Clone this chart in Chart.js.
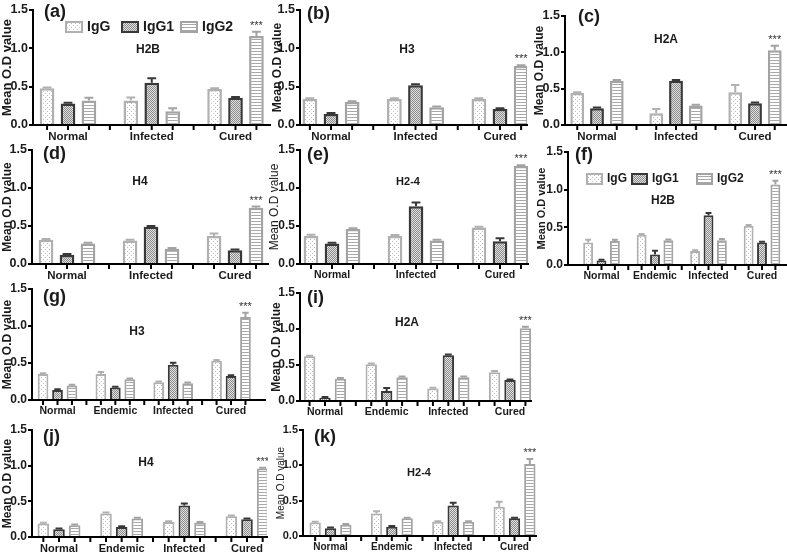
<!DOCTYPE html>
<html>
<head>
<meta charset="utf-8">
<script src="https://cdn.jsdelivr.net/npm/chart.js@4.4.0/dist/chart.umd.min.js"></script>
<style>
body { margin: 0; background: #fff; }
#fig { position: relative; width: 787px; height: 555px; overflow: hidden; }
#fig canvas { position: absolute; }
</style>
</head>
<body>
<div id="fig"></div>
<script>
const groups3 = ['Normal', 'Infected', 'Cured'];
const groups4 = ['Normal', 'Endemic', 'Infected', 'Cured'];
const series = ['IgG', 'IgG1', 'IgG2'];
const yTicks = [0, 0.5, 1.0, 1.5];

// rows: IgG, IgG1, IgG2 ; columns follow the groups
const aMean = [[0.48, 0.32, 0.47], [0.28, 0.55, 0.355], [0.32, 0.18, 1.16]];
const aErr  = [[0.01, 0.04, 0.01], [0.01, 0.06, 0.01], [0.035, 0.04, 0.055]];
const bMean = [[0.34, 0.34, 0.34], [0.145, 0.52, 0.21], [0.30, 0.23, 0.77]];
const bErr  = [[0.01, 0.01, 0.01], [0.01, 0.01, 0.01], [0.01, 0.01, 0.01]];
const cMean = [[0.44, 0.16, 0.45], [0.23, 0.61, 0.30], [0.61, 0.27, 1.03]];
const cErr  = [[0.01, 0.06, 0.10], [0.01, 0.01, 0.01], [0.01, 0.01, 0.06]];
const dMean = [[0.32, 0.31, 0.37], [0.12, 0.49, 0.18], [0.27, 0.20, 0.74]];
const dErr  = [[0.01, 0.01, 0.03], [0.01, 0.01, 0.01], [0.01, 0.01, 0.015]];
const eMean = [[0.37, 0.37, 0.48], [0.27, 0.76, 0.30], [0.46, 0.31, 1.29]];
const eErr  = [[0.015, 0.01, 0.01], [0.01, 0.05, 0.04], [0.01, 0.01, 0.01]];
const fMean = [[0.30, 0.40, 0.185, 0.52], [0.06, 0.14, 0.66, 0.30], [0.32, 0.33, 0.33, 1.07]];
const fErr  = [[0.035, 0.01, 0.01, 0.01], [0.01, 0.05, 0.03, 0.01], [0.015, 0.01, 0.015, 0.05]];
const gMean = [[0.35, 0.35, 0.24, 0.53], [0.135, 0.17, 0.475, 0.325], [0.195, 0.28, 0.225, 1.12]];
const gErr  = [[0.01, 0.03, 0.01, 0.01], [0.01, 0.01, 0.03, 0.01], [0.01, 0.01, 0.01, 0.06]];
const iMean = [[0.62, 0.51, 0.175, 0.40], [0.045, 0.14, 0.635, 0.29], [0.31, 0.33, 0.33, 1.01]];
const iErr  = [[0.01, 0.01, 0.01, 0.015], [0.01, 0.04, 0.01, 0.01], [0.01, 0.01, 0.01, 0.02]];
const jMean = [[0.19, 0.33, 0.21, 0.29], [0.11, 0.14, 0.44, 0.25], [0.165, 0.26, 0.20, 0.96]];
const jErr  = [[0.01, 0.015, 0.01, 0.01], [0.01, 0.01, 0.03, 0.01], [0.01, 0.01, 0.01, 0.01]];
const kMean = [[0.19, 0.32, 0.20, 0.415], [0.11, 0.13, 0.43, 0.25], [0.16, 0.25, 0.20, 1.02]];
const kErr  = [[0.01, 0.03, 0.01, 0.07], [0.01, 0.01, 0.04, 0.01], [0.01, 0.01, 0.01, 0.07]];

const FONT = "'Liberation Sans', Arial, sans-serif";
Chart.defaults.font.family = FONT;

// box = canvas rect, area = plot rect (page px), centers = first/last group centre
const panels = [
  { tag: '(a)', name: 'H2B', groups: groups3, mean: aMean, err: aErr,
    box: [0, 0, 275, 145], area: [33, 10, 270, 125], centers: [68, 235.5],
    tagAt: [44, 12], nameAt: [148, 50], yTitle: { size: 13, weight: 'bold' }, xSize: 11.5, ySize: 12.5,
    legend: { y: 27, xs: [66, 122, 181], size: 14, box: 16, gap: 5 } },
  { tag: '(b)', name: 'H3', groups: groups3, mean: bMean, err: bErr,
    box: [270, 0, 259, 145], area: [300, 10, 527, 125], centers: [331, 500],
    tagAt: [307, 14], nameAt: [407, 50], yTitle: { size: 12, weight: 'bold' }, xSize: 11.5, ySize: 12.5 },
  { tag: '(c)', name: 'H2A', groups: groups3, mean: cMean, err: cErr,
    box: [532, 0, 255, 145], area: [565, 16, 786, 125], centers: [597, 755],
    tagAt: [578, 17], nameAt: [666, 40], yTitle: { size: 12, weight: 'bold' }, xSize: 11.5, ySize: 12.5 },
  { tag: '(d)', name: 'H4', groups: groups3, mean: dMean, err: dErr,
    box: [0, 140, 275, 145], area: [32, 150, 268, 264], centers: [67, 235],
    tagAt: [43, 154], nameAt: [140, 182], yTitle: { size: 12, weight: 'bold' }, xSize: 11.5, ySize: 12.5 },
  { tag: '(e)', name: 'H2-4', groups: groups3, mean: eMean, err: eErr,
    box: [267, 140, 262, 145], area: [300, 150, 528, 264], centers: [332, 500],
    tagAt: [307, 155], nameAt: [408, 182], yTitle: { size: 12, weight: 'normal' }, xSize: 10.5, ySize: 12, nameSize: 11 },
  { tag: '(f)', name: 'H2B', groups: groups4, mean: fMean, err: fErr,
    box: [535, 140, 252, 150], area: [568, 152, 786, 265], centers: [601.5, 762],
    tagAt: [575, 155], nameAt: [663, 201], yTitle: { size: 11, weight: 'bold' }, xSize: 10.5, ySize: 12,
    legend: { y: 179, xs: [587, 632, 697], size: 12, box: 15, gap: 5 } },
  { tag: '(g)', name: 'H3', groups: groups4, mean: gMean, err: gErr,
    box: [0, 280, 268, 140], area: [32, 289, 265, 400], centers: [57.5, 231],
    tagAt: [43, 297], nameAt: [137, 332], yTitle: { size: 12, weight: 'bold' }, xSize: 10.5, ySize: 12 },
  { tag: '(i)', name: 'H2A', groups: groups4, mean: iMean, err: iErr,
    box: [269, 280, 263, 140], area: [300, 293, 531, 401], centers: [325, 510],
    tagAt: [307, 298], nameAt: [407, 323], yTitle: { size: 12, weight: 'bold' }, xSize: 10.5, ySize: 12 },
  { tag: '(j)', name: 'H4', groups: groups4, mean: jMean, err: jErr,
    box: [0, 420, 268, 135], area: [32, 430, 267, 537], centers: [59, 247],
    tagAt: [43, 437], nameAt: [146, 463], yTitle: { size: 12, weight: 'bold' }, xSize: 11, ySize: 12 },
  { tag: '(k)', name: 'H2-4', groups: groups4, mean: kMean, err: kErr,
    box: [275, 420, 262, 135], area: [303, 430, 536, 536], centers: [330.5, 514.5],
    tagAt: [314, 437], nameAt: [419, 473], yTitle: { size: 10, weight: 'normal' }, xSize: 10, ySize: 11, nameSize: 11 }
];

function makeTile(w, h, draw) {
  const c = document.createElement('canvas');
  c.width = w; c.height = h;
  const g = c.getContext('2d');
  draw(g);
  return g.createPattern(c, 'repeat');
}

const fills = [
  makeTile(4, 4, g => { g.fillStyle = '#fff'; g.fillRect(0, 0, 4, 4); g.fillStyle = '#bdbdbd'; g.fillRect(1, 1, 1, 1); g.fillRect(3, 3, 1, 1); }),
  makeTile(2, 2, g => { g.fillStyle = '#e2e2e2'; g.fillRect(0, 0, 2, 2); g.fillStyle = '#8a8a8a'; g.fillRect(0, 0, 1, 1); g.fillRect(1, 1, 1, 1); }),
  makeTile(1, 3, g => { g.fillStyle = '#fff'; g.fillRect(0, 0, 1, 3); g.fillStyle = '#a8a8a8'; g.fillRect(0, 0, 1, 1); })
];
const edges = ['#b0b0b0', '#383838', '#a3a3a3'];

function marks(p) {
  const ox = p.box[0], oy = p.box[1];
  return {
    id: 'marks',
    afterDatasetsDraw(chart) {
      const ctx = chart.ctx, ys = chart.scales.y, base = chart.chartArea.bottom;
      ctx.save();
      // error bars (mean + SEM, upward only)
      series.forEach((s, k) => {
        chart.getDatasetMeta(k).data.forEach((bar, i) => {
          const top = ys.getPixelForValue(p.mean[k][i] + p.err[k][i]);
          const half = bar.width * 0.3;
          ctx.strokeStyle = edges[k];
          ctx.lineWidth = 2;
          ctx.beginPath();
          ctx.moveTo(bar.x, bar.y);
          ctx.lineTo(bar.x, top);
          ctx.moveTo(bar.x - half, top);
          ctx.lineTo(bar.x + half, top);
          ctx.stroke();
        });
      });
      // *** over cured IgG2
      const last = p.groups.length - 1;
      const sb = chart.getDatasetMeta(2).data[last];
      ctx.fillStyle = '#333';
      ctx.font = '11px ' + FONT;
      ctx.textAlign = 'center';
      ctx.textBaseline = 'alphabetic';
      ctx.fillText('***', sb.x, ys.getPixelForValue(p.mean[2][last] + p.err[2][last]) - 3);
      // tick marks under the x axis
      ctx.strokeStyle = '#000';
      ctx.lineWidth = 2;
      ctx.beginPath();
      const xs = p.groups.map((g, i) => series.map((s, k) => chart.getDatasetMeta(k).data[i].x));
      xs.forEach((row, i) => {
        row.forEach(x => { ctx.moveTo(x, base); ctx.lineTo(x, base + 5); });
        if (i < xs.length - 1) {
          const m = (row[row.length - 1] + xs[i + 1][0]) / 2;
          ctx.moveTo(m, base); ctx.lineTo(m, base + 5);
        }
      });
      ctx.stroke();
      ctx.restore();
    },
    afterDraw(chart) {
      const ctx = chart.ctx;
      ctx.save();
      ctx.fillStyle = '#1a1a1a';
      ctx.textBaseline = 'middle';
      ctx.font = 'bold 18px ' + FONT;
      ctx.textAlign = 'left';
      ctx.fillText(p.tag, p.tagAt[0] - ox, p.tagAt[1] - oy);
      ctx.font = 'bold ' + (p.nameSize || 12) + 'px ' + FONT;
      ctx.textAlign = 'center';
      ctx.fillText(p.name, p.nameAt[0] - ox, p.nameAt[1] - oy);
      if (p.legend) {
        const L = p.legend;
        ctx.font = 'bold ' + L.size + 'px ' + FONT;
        ctx.textAlign = 'left';
        series.forEach((s, k) => {
          const x = L.xs[k] - ox, y = L.y - oy;
          ctx.fillStyle = fills[k];
          ctx.fillRect(x, y - 5, L.box, 10);
          ctx.strokeStyle = edges[k];
          ctx.lineWidth = 2;
          ctx.strokeRect(x, y - 5, L.box, 10);
          ctx.fillStyle = '#1a1a1a';
          ctx.fillText(s, x + L.box + L.gap, y);
        });
      }
      ctx.restore();
    }
  };
}

const fig = document.getElementById('fig');
panels.forEach(p => {
  const [bx, by, bw, bh] = p.box;
  const [al, at, ar, ab] = p.area;
  const cv = document.createElement('canvas');
  cv.width = bw; cv.height = bh;
  cv.style.left = bx + 'px';
  cv.style.top = by + 'px';
  fig.appendChild(cv);

  const n = p.groups.length;
  const unit = (p.centers[1] - p.centers[0]) / (n - 1);
  const xMin = -(p.centers[0] - al) / unit;
  const xMax = n - 1 + (ar - p.centers[1]) / unit;
  const yw = al - bx, xh = by + bh - ab;
  const four = n === 4;

  new Chart(cv, {
    type: 'bar',
    data: {
      datasets: series.map((s, k) => ({
        label: s,
        data: p.mean[k].map((v, i) => ({ x: i, y: v })),
        backgroundColor: fills[k],
        borderColor: edges[k],
        borderWidth: four ? 2 : 2.5,
        borderSkipped: 'bottom',
        categoryPercentage: 0.75,
        barPercentage: four ? 0.74 : 0.7
      }))
    },
    options: {
      responsive: false,
      animation: false,
      devicePixelRatio: 1,
      layout: { padding: { left: 0, top: at - by, right: bx + bw - ar, bottom: 0 } },
      plugins: { legend: { display: false }, tooltip: { enabled: false } },
      scales: {
        x: {
          type: 'linear',
          min: xMin,
          max: xMax,
          offset: false,
          afterBuildTicks: s => { s.ticks = p.groups.map((g, i) => ({ value: i })); },
          afterFit: s => { s.height = xh; },
          grid: { drawOnChartArea: false, drawTicks: false, offset: false },
          border: { color: '#000', width: 2 },
          ticks: {
            autoSkip: false,
            maxRotation: 0,
            padding: 5,
            color: '#1a1a1a',
            font: { size: p.xSize, weight: 'bold' },
            callback: v => p.groups[v]
          }
        },
        y: {
          min: 0,
          max: 1.5,
          afterBuildTicks: s => { s.ticks = yTicks.map(v => ({ value: v })); },
          afterFit: s => { s.width = yw; },
          grid: { drawOnChartArea: false, tickLength: 4, color: '#000', lineWidth: 2 },
          border: { color: '#000', width: 2 },
          ticks: {
            padding: 1,
            color: '#1a1a1a',
            font: { size: p.ySize, weight: 'bold' },
            callback: v => v.toFixed(1)
          },
          title: {
            display: true,
            text: 'Mean O.D value',
            color: '#1a1a1a',
            padding: { top: 0, bottom: 0 },
            font: p.yTitle
          }
        }
      }
    },
    plugins: [marks(p)]
  });
});
</script>
</body>
</html>
